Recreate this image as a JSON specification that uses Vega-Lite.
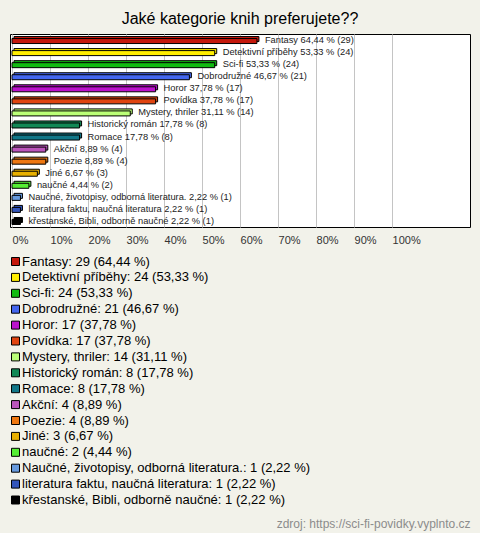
{
  "$schema": "https://vega.github.io/schema/vega-lite/v6.json",
  "background": "#f2f2ea",
  "padding": {"left": 9, "right": 10, "top": 10, "bottom": 3},
  "title": {"text": "zdroj: https://sci-fi-povidky.vyplnto.cz", "orient": "bottom", "anchor": "end", "fontSize": 12, "fontWeight": "normal", "color": "#8c8c8c", "offset": 11, "font": "Liberation Sans"},
  "config": {"font": "Liberation Sans", "view": {"stroke": "#000", "strokeWidth": 1, "fill": "white"}},
  "vconcat": [
    {
      "width": 460,
      "height": 193,
      "title": {"text": "Jaké kategorie knih preferujete??", "fontSize": 16, "font": "Liberation Sans", "fontWeight": "normal", "color": "#000", "anchor": "middle", "offset": 7},
      "data": {"values": [
        {"kategorie": "Fantasy", "pocet": 29, "pct": 64.44, "label": "Fantasy 64,44 % (29)", "legend": "Fantasy: 29 (64,44 %)"},
        {"kategorie": "Detektivní příběhy", "pocet": 24, "pct": 53.33, "label": "Detektivní příběhy 53,33 % (24)", "legend": "Detektivní příběhy: 24 (53,33 %)"},
        {"kategorie": "Sci-fi", "pocet": 24, "pct": 53.33, "label": "Sci-fi 53,33 % (24)", "legend": "Sci-fi: 24 (53,33 %)"},
        {"kategorie": "Dobrodružné", "pocet": 21, "pct": 46.67, "label": "Dobrodružné 46,67 % (21)", "legend": "Dobrodružné: 21 (46,67 %)"},
        {"kategorie": "Horor", "pocet": 17, "pct": 37.78, "label": "Horor 37,78 % (17)", "legend": "Horor: 17 (37,78 %)"},
        {"kategorie": "Povídka", "pocet": 17, "pct": 37.78, "label": "Povídka 37,78 % (17)", "legend": "Povídka: 17 (37,78 %)"},
        {"kategorie": "Mystery, thriler", "pocet": 14, "pct": 31.11, "label": "Mystery, thriler 31,11 % (14)", "legend": "Mystery, thriler: 14 (31,11 %)"},
        {"kategorie": "Historický román", "pocet": 8, "pct": 17.78, "label": "Historický román 17,78 % (8)", "legend": "Historický román: 8 (17,78 %)"},
        {"kategorie": "Romace", "pocet": 8, "pct": 17.78, "label": "Romace 17,78 % (8)", "legend": "Romace: 8 (17,78 %)"},
        {"kategorie": "Akční", "pocet": 4, "pct": 8.89, "label": "Akční 8,89 % (4)", "legend": "Akční: 4 (8,89 %)"},
        {"kategorie": "Poezie", "pocet": 4, "pct": 8.89, "label": "Poezie 8,89 % (4)", "legend": "Poezie: 4 (8,89 %)"},
        {"kategorie": "Jiné", "pocet": 3, "pct": 6.67, "label": "Jiné 6,67 % (3)", "legend": "Jiné: 3 (6,67 %)"},
        {"kategorie": "naučné", "pocet": 2, "pct": 4.44, "label": "naučné 4,44 % (2)", "legend": "naučné: 2 (4,44 %)"},
        {"kategorie": "Naučné, životopisy, odborná literatura.", "pocet": 1, "pct": 2.22, "label": "Naučné, životopisy, odborná literatura. 2,22 % (1)", "legend": "Naučné, životopisy, odborná literatura.: 1 (2,22 %)"},
        {"kategorie": "literatura faktu, naučná literatura", "pocet": 1, "pct": 2.22, "label": "literatura faktu, naučná literatura 2,22 % (1)", "legend": "literatura faktu, naučná literatura: 1 (2,22 %)"},
        {"kategorie": "křestanské, Bibli, odborně naučné", "pocet": 1, "pct": 2.22, "label": "křestanské, Bibli, odborně naučné 2,22 % (1)", "legend": "křestanské, Bibli, odborně naučné: 1 (2,22 %)"}
      ]},
      "encoding": {
        "y": {"field": "kategorie", "type": "nominal", "sort": null, "axis": null, "scale": {"paddingInner": 0, "paddingOuter": 0}},
        "x": {"field": "pct", "type": "quantitative",
          "scale": {"domain": [-0.53, 120.5], "nice": false, "zero": false},
          "axis": {"values": [0, 10, 20, 30, 40, 50, 60, 70, 80, 90, 100], "labelExpr": "datum.value + '%'", "labelAlign": "left", "labelFontSize": 11, "labelColor": "#333", "domain": false, "ticks": false, "grid": true, "gridColor": "#c4c4c4", "gridWidth": 1, "title": null, "labelPadding": 7, "labelFlush": false, "labelOverlap": false, "labelBaseline": "top", "labelFont": "Liberation Sans"}}
      },
      "layer": [
        {
          "mark": {"type": "bar", "size": 5, "xOffset": 2, "yOffset": -1, "stroke": "#000", "strokeWidth": 1},
          "encoding": {
            "color": {"field": "legend", "type": "nominal", "sort": null,
              "scale": {"domain": [
                "Fantasy: 29 (64,44 %)", "Detektivní příběhy: 24 (53,33 %)", "Sci-fi: 24 (53,33 %)", "Dobrodružné: 21 (46,67 %)", "Horor: 17 (37,78 %)", "Povídka: 17 (37,78 %)", "Mystery, thriler: 14 (31,11 %)", "Historický román: 8 (17,78 %)", "Romace: 8 (17,78 %)", "Akční: 4 (8,89 %)", "Poezie: 4 (8,89 %)", "Jiné: 3 (6,67 %)", "naučné: 2 (4,44 %)", "Naučné, životopisy, odborná literatura.: 1 (2,22 %)", "literatura faktu, naučná literatura: 1 (2,22 %)", "křestanské, Bibli, odborně naučné: 1 (2,22 %)"],
                "range": ["#c4180c", "#ffee00", "#11bb11", "#4466ee", "#bb11cc", "#e04410", "#bbff77", "#118855", "#117788", "#bb55bb", "#ee7711", "#e8b000", "#55ee33", "#6699dd", "#3355bb", "#000000"]},
              "legend": {"orient": "none", "legendX": -1, "legendY": 221, "direction": "vertical", "columns": 1, "title": null, "symbolType": "square", "symbolSize": 64, "symbolStrokeColor": "#000", "symbolStrokeWidth": 1, "symbolOpacity": 1, "labelFontSize": 13, "labelColor": "#000", "labelFont": "Liberation Sans", "rowPadding": 1.9, "labelOffset": 0, "padding": 0, "labelLimit": 600}}
          }
        },
        {
          "mark": {"type": "bar", "size": 5, "yOffset": 1, "stroke": "#000", "strokeWidth": 1},
          "encoding": {
            "color": {"field": "legend", "type": "nominal", "sort": null}
          }
        },
        {
          "mark": {"type": "text", "align": "left", "baseline": "middle", "dx": 8, "fontSize": 9.3, "font": "Liberation Sans", "color": "#222"},
          "encoding": {
            "text": {"field": "label"}
          }
        }
      ]
    }
  ]
}
